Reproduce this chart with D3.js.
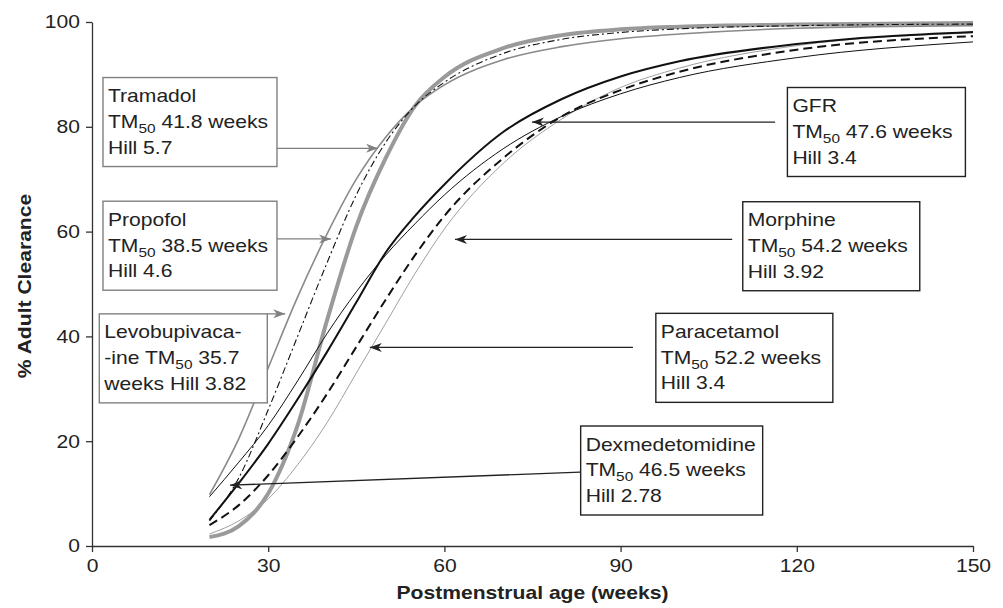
<!DOCTYPE html>
<meta charset="utf-8">
<html>
<head>
<style>
  body { margin: 0; background: #fff; }
  svg { font-family: "Liberation Sans", Arial, sans-serif; }
  .axis path, .axis line { stroke: #333; stroke-width: 1.3; }
  .axis text { font-size: 18.5px; fill: #222; font-family: "Liberation Sans", Arial, sans-serif; }
  .title { font-size: 18.5px; font-weight: bold; fill: #222; }
  .note text { font-size: 18.5px; fill: #222; }
</style>
<script src="https://d3js.org/d3.v7.min.js"></script>
</head>
<body>
<svg width="1003" height="608"></svg>
<script>

// postmenstrual age (weeks) and % adult clearance
var weeks       = [20, 25, 30, 35, 40, 45, 50, 55, 60, 70, 80, 90, 100, 120, 150];
var tramadol    = [1.7, 3.8, 10, 23, 43, 61, 74, 84, 89.5, 95, 97.5, 98.6, 99.1, 99.5, 99.8];
var propofol    = [4.8, 13, 26, 40, 54, 67, 77, 84, 88.5, 94, 96.7, 98, 98.7, 99.3, 99.6];
var levo        = [9.8, 20.5, 34, 47.5, 59.5, 70, 78, 84, 88, 92.8, 95.3, 96.8, 97.7, 98.8, 99.3];
var gfr         = [5, 12, 19.5, 28, 37, 46.5, 56, 63, 69, 79, 85.3, 89.6, 92.5, 95.8, 98.1];
var dexmed      = [9.4, 16, 23, 31.5, 40.5, 48.5, 55.5, 61.5, 67, 75.8, 82, 86.3, 89.4, 93.2, 96.2];
var paracetamol = [4, 7.8, 13.5, 20.8, 29, 38, 47, 55.5, 63, 74, 82, 87, 90.5, 94.7, 97.3];
var morphine    = [2.3, 4.8, 9, 15.5, 23.5, 33, 42.5, 52, 60.5, 73, 81.5, 87.5, 91.2, 95.5, 97.9];

var xTicks = [0, 30, 60, 90, 120, 150];
var yTicks = [0, 20, 40, 60, 80, 100];

// label text, "TM_50" is drawn with a subscript
var noteNames = ["Tramadol", "Propofol", "Levobupivacaine", "GFR", "Morphine", "Paracetamol", "Dexmedetomidine"];
var noteLines = [
  ["Tramadol", "TM_50 41.8 weeks", "Hill 5.7"],
  ["Propofol", "TM_50 38.5 weeks", "Hill 4.6"],
  ["Levobupivaca-", "-ine TM_50 35.7", "weeks Hill 3.82"],
  ["GFR", "TM_50 47.6 weeks", "Hill 3.4"],
  ["Morphine", "TM_50 54.2 weeks", "Hill 3.92"],
  ["Paracetamol", "TM_50 52.2 weeks", "Hill 3.4"],
  ["Dexmedetomidine", "TM_50 46.5 weeks", "Hill 2.78"]
];
// box top-left corner, arrow start and arrow tip, in axis units
var noteBox   = [[1.87, 89.4], [1.87, 65.8], [1.24, 44.3], [118.4, 87.5], [110.8, 65.7], [96.0, 44.4], [83.2, 22.9]];
var arrowFrom = [[31.5, 75.9], [31.5, 58.6], [29.8, 44.3], [116.3, 80.9], [109.0, 58.5], [92.1, 37.9], [83.1, 14.1]];
var arrowTo   = [[48.7, 75.9], [40.7, 58.6], [32.9, 44.3], [74.9, 80.9], [61.8, 58.5], [47.3, 37.9], [23.5, 11.6]];

var svg = d3.select("svg"),
    margin = {top: 22, right: 30, bottom: 62, left: 92},
    width = +svg.attr("width") - margin.left - margin.right,
    height = +svg.attr("height") - margin.top - margin.bottom,
    g = svg.append("g").attr("transform", "translate(" + margin.left + "," + margin.top + ")");

var x = d3.scaleLinear().domain([0, 150]).range([0, width]),
    y = d3.scaleLinear().domain([0, 100]).range([height, 0]);

g.append("g")
    .attr("class", "axis")
    .attr("transform", "translate(0," + height + ")")
    .call(d3.axisBottom(x).tickValues(xTicks).tickSize(6).tickPadding(7).tickSizeOuter(0));

g.append("g")
    .attr("class", "axis")
    .call(d3.axisLeft(y).tickValues(yTicks).tickSize(6).tickPadding(6).tickSizeOuter(0));

svg.append("text")
    .attr("class", "title")
    .attr("text-anchor", "middle")
    .attr("transform", "translate(31," + (margin.top + height / 2 + 2) + ") rotate(-90)")
    .text("% Adult Clearance");

svg.append("text")
    .attr("class", "title")
    .attr("text-anchor", "middle")
    .attr("x", margin.left + width / 2)
    .attr("y", 599)
    .text("Postmenstrual age (weeks)");

// arrow heads
var defs = svg.append("defs");
[["gray", "#808080"], ["black", "#222"]].forEach(function(m) {
  defs.append("marker")
      .attr("id", "head-" + m[0])
      .attr("viewBox", "0 -5 12 10")
      .attr("refX", 12)
      .attr("refY", 0)
      .attr("markerUnits", "userSpaceOnUse")
      .attr("markerWidth", 12)
      .attr("markerHeight", 10)
      .attr("orient", "auto")
    .append("path")
      .attr("d", "M0,-4.5L12,0L0,4.5L3.5,0Z")
      .attr("fill", m[1]);
});

var line = d3.line()
    .curve(d3.curveMonotoneX)
    .x(function(d) { return x(d[0]); })
    .y(function(d) { return y(d[1]); });

var series = [
  {values: tramadol,    stroke: "#9a9a9a", width: 4,   dash: null},
  {values: levo,        stroke: "#8a8a8a", width: 1.6, dash: null},
  {values: morphine,    stroke: "#a0a0a0", width: 1,   dash: null},
  {values: propofol,    stroke: "#111",    width: 1.1, dash: "7,3,2,3"},
  {values: dexmed,      stroke: "#111",    width: 1,   dash: null},
  {values: paracetamol, stroke: "#111",    width: 2,   dash: "9,5"},
  {values: gfr,         stroke: "#111",    width: 2,   dash: null}
];

g.selectAll(".curve")
  .data(series)
  .enter().append("path")
    .attr("class", "curve")
    .attr("fill", "none")
    .attr("stroke", function(d) { return d.stroke; })
    .attr("stroke-width", function(d) { return d.width; })
    .attr("stroke-dasharray", function(d) { return d.dash; })
    .attr("d", function(d) { return line(weeks.map(function(w, i) { return [w, d.values[i]]; })); });

// annotation boxes
var boxW = [174, 174, 168, 178, 177, 177, 182],
    boxH = 89;

noteNames.forEach(function(name, i) {
  var isGray = i < 3;
  var col = isGray ? "#808080" : "#222";
  var note = g.append("g").attr("class", "note");

  note.append("line")
      .attr("x1", x(arrowFrom[i][0])).attr("y1", y(arrowFrom[i][1]))
      .attr("x2", x(arrowTo[i][0])).attr("y2", y(arrowTo[i][1]))
      .attr("stroke", col)
      .attr("stroke-width", 1.3)
      .attr("marker-end", "url(#head-" + (isGray ? "gray" : "black") + ")");

  var bx = x(noteBox[i][0]), by = y(noteBox[i][1]);
  note.append("rect")
      .attr("x", bx).attr("y", by)
      .attr("width", boxW[i]).attr("height", boxH)
      .attr("fill", "#fff")
      .attr("stroke", col)
      .attr("stroke-width", 1.4);

  noteLines[i].forEach(function(txt, j) {
    var t = note.append("text")
        .attr("x", bx + 5)
        .attr("y", by + 24.5 + j * 25.8);
    var parts = txt.split("TM_50");
    if (parts.length == 1) { t.text(txt); return; }
    t.append("tspan").text(parts[0] + "TM");
    t.append("tspan").attr("font-size", "13.5px").attr("dy", 5).text("50");
    t.append("tspan").attr("dy", -5).text(parts[1]);
  });
});

// the source lettering is wider than Liberation Sans, stretch it a bit
svg.selectAll("text").each(function() {
  var len = this.getComputedTextLength();
  this.setAttribute("textLength", len * 1.14);
  this.setAttribute("lengthAdjust", "spacingAndGlyphs");
});

</script>
</body>
</html>
